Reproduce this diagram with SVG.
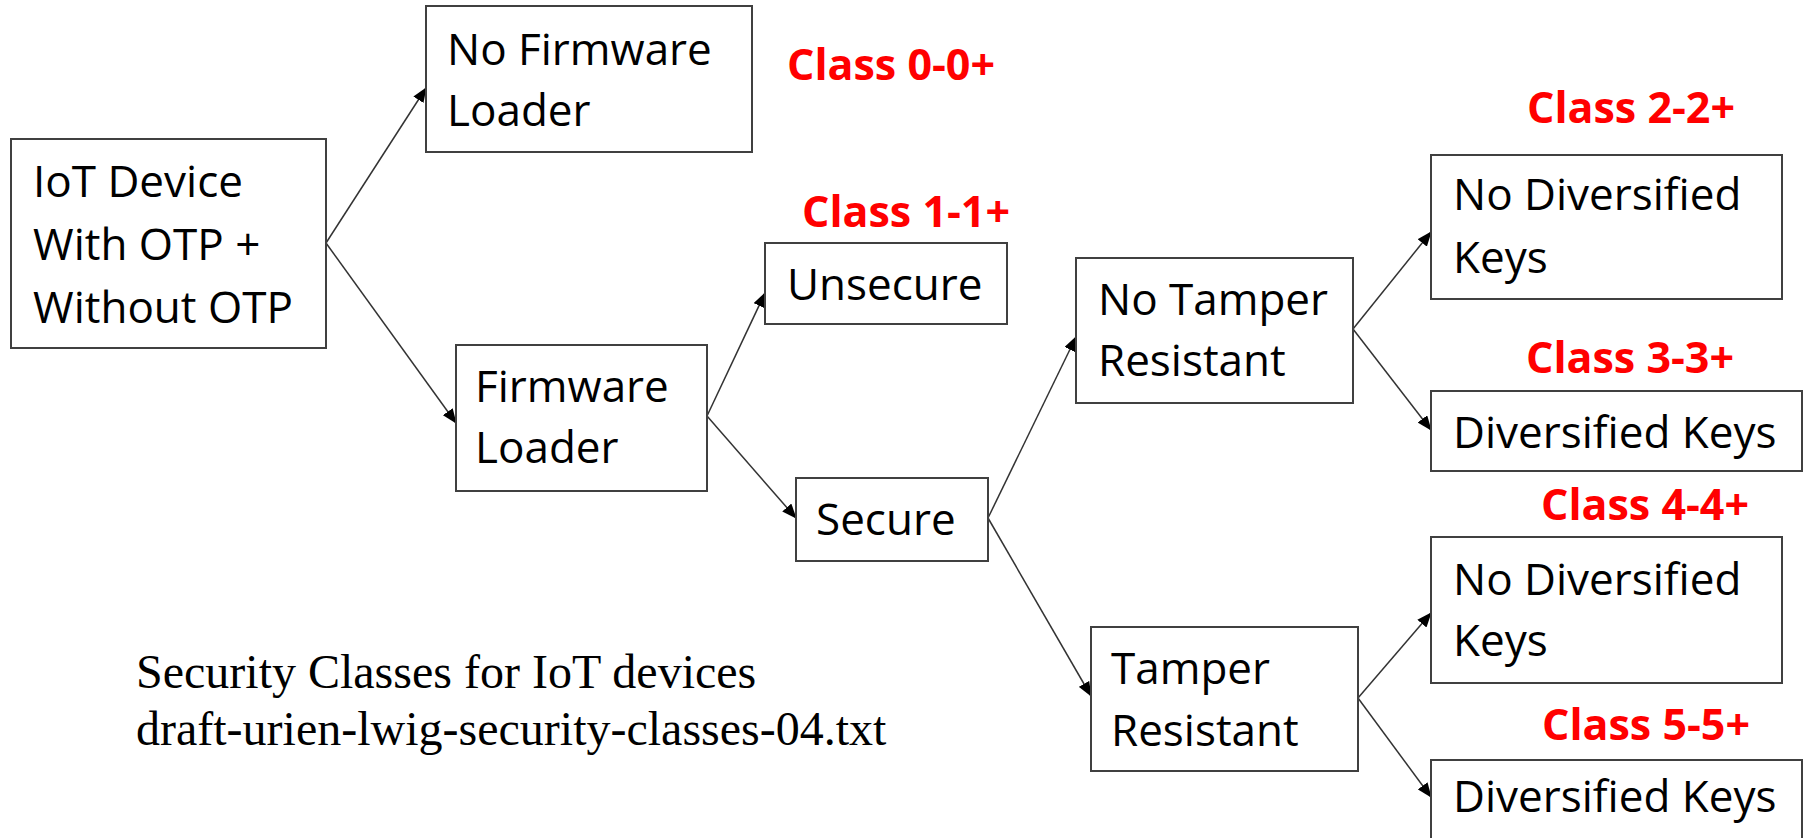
<svg xmlns="http://www.w3.org/2000/svg" width="1804" height="838" viewBox="0 0 1804 838">
<style>
.box{fill:#ffffff;stroke:#404040;stroke-width:2}
.t{font-family:"Open Sans","Liberation Sans",sans-serif;font-size:44px;fill:#000000}
.cls{font-family:"Open Sans","Liberation Sans",sans-serif;font-size:43px;font-weight:bold;fill:#ff0000}
.cap{font-family:"Liberation Serif","Times New Roman",serif;font-size:48px;fill:#000000}
.edge{stroke:#333333;stroke-width:1.5;fill:none;marker-end:url(#arr)}
</style>
<defs>
<marker id="arr" markerUnits="userSpaceOnUse" markerWidth="16" markerHeight="12" refX="14" refY="6" orient="auto">
<path d="M0,0 L15,6 L0,12 z" fill="#000000"/>
</marker>
</defs>
<rect width="1804" height="838" fill="#ffffff"/>
<g id="connectors">
<line class="edge" x1="326" y1="243" x2="426" y2="88"/>
<line class="edge" x1="326" y1="243" x2="456" y2="423"/>
<line class="edge" x1="707" y1="416" x2="765" y2="293"/>
<line class="edge" x1="707" y1="416" x2="796" y2="518"/>
<line class="edge" x1="988" y1="518" x2="1076" y2="337"/>
<line class="edge" x1="988" y1="518" x2="1091" y2="696"/>
<line class="edge" x1="1353" y1="329" x2="1431" y2="232"/>
<line class="edge" x1="1353" y1="329" x2="1431" y2="430"/>
<line class="edge" x1="1358" y1="698" x2="1431" y2="613"/>
<line class="edge" x1="1358" y1="698" x2="1431" y2="797"/>
</g>
<g id="iot">
<rect class="box" x="11" y="139" width="315" height="209"/>
<text class="t" x="33" y="197">IoT Device</text>
<text class="t" x="33" y="260">With OTP +</text>
<text class="t" x="33" y="323">Without OTP</text>
</g>
<g id="nfl">
<rect class="box" x="426" y="6" width="326" height="146"/>
<text class="t" x="447" y="65">No Firmware</text>
<text class="t" x="447" y="126">Loader</text>
</g>
<g id="fl">
<rect class="box" x="456" y="345" width="251" height="146"/>
<text class="t" x="475" y="402">Firmware</text>
<text class="t" x="475" y="463">Loader</text>
</g>
<g id="unsecure">
<rect class="box" x="765" y="243" width="242" height="81"/>
<text class="t" x="787" y="300">Unsecure</text>
</g>
<g id="secure">
<rect class="box" x="796" y="478" width="192" height="83"/>
<text class="t" x="816" y="535">Secure</text>
</g>
<g id="notamper">
<rect class="box" x="1076" y="258" width="277" height="145"/>
<text class="t" x="1098" y="315">No Tamper</text>
<text class="t" x="1098" y="376">Resistant</text>
</g>
<g id="tamper">
<rect class="box" x="1091" y="627" width="267" height="144"/>
<text class="t" x="1111" y="684">Tamper</text>
<text class="t" x="1111" y="746">Resistant</text>
</g>
<g id="ndk1">
<rect class="box" x="1431" y="155" width="351" height="144"/>
<text class="t" x="1453" y="210">No Diversified</text>
<text class="t" x="1453" y="273">Keys</text>
</g>
<g id="dk1">
<rect class="box" x="1431" y="391" width="371" height="80"/>
<text class="t" x="1453" y="448">Diversified Keys</text>
</g>
<g id="ndk2">
<rect class="box" x="1431" y="537" width="351" height="146"/>
<text class="t" x="1453" y="595">No Diversified</text>
<text class="t" x="1453" y="656">Keys</text>
</g>
<g id="dk2">
<rect class="box" x="1431" y="760" width="371" height="90"/>
<text class="t" x="1453" y="812">Diversified Keys</text>
</g>
<g id="labels">
<text class="cls" x="787" y="80">Class 0-0+</text>
<text class="cls" x="802" y="227">Class 1-1+</text>
<text class="cls" x="1527" y="123">Class 2-2+</text>
<text class="cls" x="1526" y="373">Class 3-3+</text>
<text class="cls" x="1541" y="520">Class 4-4+</text>
<text class="cls" x="1542" y="740">Class 5-5+</text>
</g>
<g id="caption">
<text class="cap" x="136" y="688">Security Classes for IoT devices</text>
<text class="cap" x="136" y="745">draft-urien-lwig-security-classes-04.txt</text>
</g>
</svg>
